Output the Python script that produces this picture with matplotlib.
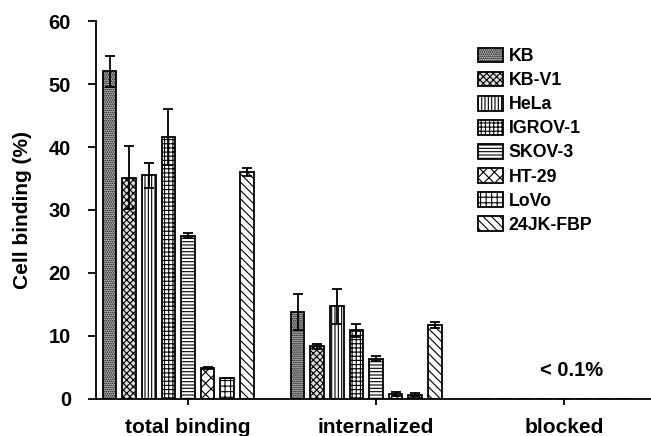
import numpy as np
import matplotlib.pyplot as plt

plt.rcParams['font.family'] = ['Liberation Sans', 'DejaVu Sans']
plt.rcParams['font.weight'] = 'bold'
plt.rcParams['hatch.linewidth'] = 0.8

groups = ['total binding', 'internalized', 'blocked']
cells = ['KB', 'KB-V1', 'HeLa', 'IGROV-1', 'SKOV-3', 'HT-29', 'LoVo', '24JK-FBP']

values = {
    'KB':       [52.0, 13.8, 0],
    'KB-V1':    [35.1, 8.4, 0],
    'HeLa':     [35.5, 14.7, 0],
    'IGROV-1':  [41.6, 10.9, 0],
    'SKOV-3':   [25.9, 6.4, 0],
    'HT-29':    [4.9, 0.8, 0],
    'LoVo':     [3.3, 0.7, 0],
    '24JK-FBP': [36.0, 11.7, 0],
}
errors = {
    'KB':       [2.4, 2.8, 0],
    'KB-V1':    [5.0, 0.4, 0],
    'HeLa':     [2.0, 2.8, 0],
    'IGROV-1':  [4.4, 1.0, 0],
    'SKOV-3':   [0.4, 0.35, 0],
    'HT-29':    [0.15, 0.25, 0],
    'LoVo':     [0.0, 0.2, 0],
    '24JK-FBP': [0.6, 0.5, 0],
}
hatches = ['........', 'XXXXX', '|||||', '++++', '-----', 'xxx', '+++', '\\\\\\\\']
faces = ['#bbbbbb', '#dddddd', 'white', 'white', 'white', 'white', 'white', 'white']

fig = plt.figure(figsize=(6.51, 4.36), dpi=100)
ax = fig.add_axes([0.1475, 0.0849, 0.8525, 0.8669])

x = np.arange(len(groups))
slot = 0.1043
width = 0.072
for i, c in enumerate(cells):
    pos = x + (i - 4) * slot
    ax.bar(pos, values[c], width, color=faces[i], edgecolor='black', linewidth=1.3,
           hatch=hatches[i], label=c, zorder=2)
    ax.errorbar(pos[:2], values[c][:2], yerr=errors[c][:2], fmt='none', ecolor='black',
                elinewidth=1.3, capsize=3.5, capthick=1.3, zorder=3)

ax.set_ylim(0, 60)
ax.set_xlim(-0.489, 2.463)
ax.set_yticks(range(0, 61, 10))
ax.set_xticks(x)
ax.set_xticklabels(groups)
ax.tick_params(axis='y', labelsize=14.5, length=6, width=1.3, direction='out', pad=12)
ax.tick_params(axis='x', labelsize=15, length=4, width=1.3, direction='out', pad=10)
for s in ['top', 'right']:
    ax.spines[s].set_visible(False)
for s in ['left', 'bottom']:
    ax.spines[s].set_linewidth(1.3)
ax.set_ylabel('Cell binding (%)', fontsize=15, fontweight='bold', labelpad=12)

ax.text(2.04, 4.5, '< 0.1%', ha='center', va='center', fontsize=14.5, fontweight='bold')

ax.legend(loc='upper left', bbox_to_anchor=(0.66, 0.972), frameon=False, fontsize=12.8,
          handlelength=1.4, handleheight=0.9, handletextpad=0.3, labelspacing=0.37)

fig.savefig('out.png', dpi=100)
